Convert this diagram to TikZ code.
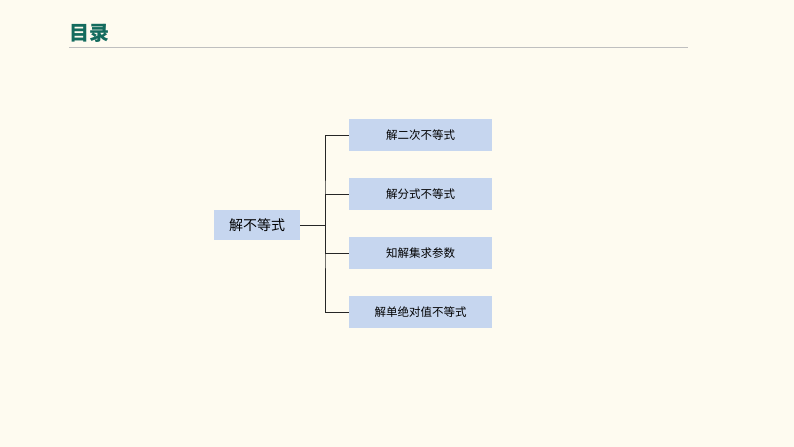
\documentclass[tikz,border=0pt]{standalone}
\usepackage{fontspec}
\newfontfamily\cjk{Noto Sans CJK SC}
\definecolor{bg}{HTML}{FEFBF0}
\definecolor{teal}{HTML}{136B5E}
\definecolor{boxc}{HTML}{C6D6EF}
\begin{document}
\begin{tikzpicture}[x=1bp,y=-1bp,
  child/.style={fill=boxc,minimum width=143bp,minimum height=32bp,inner sep=0pt,font=\cjk\fontsize{11.5bp}{13bp}\selectfont},
  conn/.style={draw=black!85,line width=0.9bp}]
\fill[bg] (0,0) rectangle (794,447);
\useasboundingbox (0,0) rectangle (794,447);
\node[anchor=west,text=teal,font=\cjk\bfseries\fontsize{20bp}{22bp}\selectfont,inner sep=0pt] (t) at (69,33) {目录};
\draw[black!25,line width=0.6bp] (69,47) -- (688,47);
\node[fill=boxc,minimum width=86bp,minimum height=30bp,inner sep=0pt,font=\cjk\fontsize{14bp}{16bp}\selectfont] (r) at (257,225) {解不等式};
\node[child] (a) at (420.5,135) {解二次不等式};
\node[child] (b) at (420.5,194) {解分式不等式};
\node[child] (c) at (420.5,253) {知解集求参数};
\node[child] (d) at (420.5,312) {解单绝对值不等式};
\coordinate (j) at (325,225);
\draw[conn] (r.east) -- (j);
\draw[conn] (a.west) -| (j) |- (d.west);
\draw[conn] (j) |- (b.west);
\draw[conn] (j) |- (c.west);
\end{tikzpicture}
\end{document}
